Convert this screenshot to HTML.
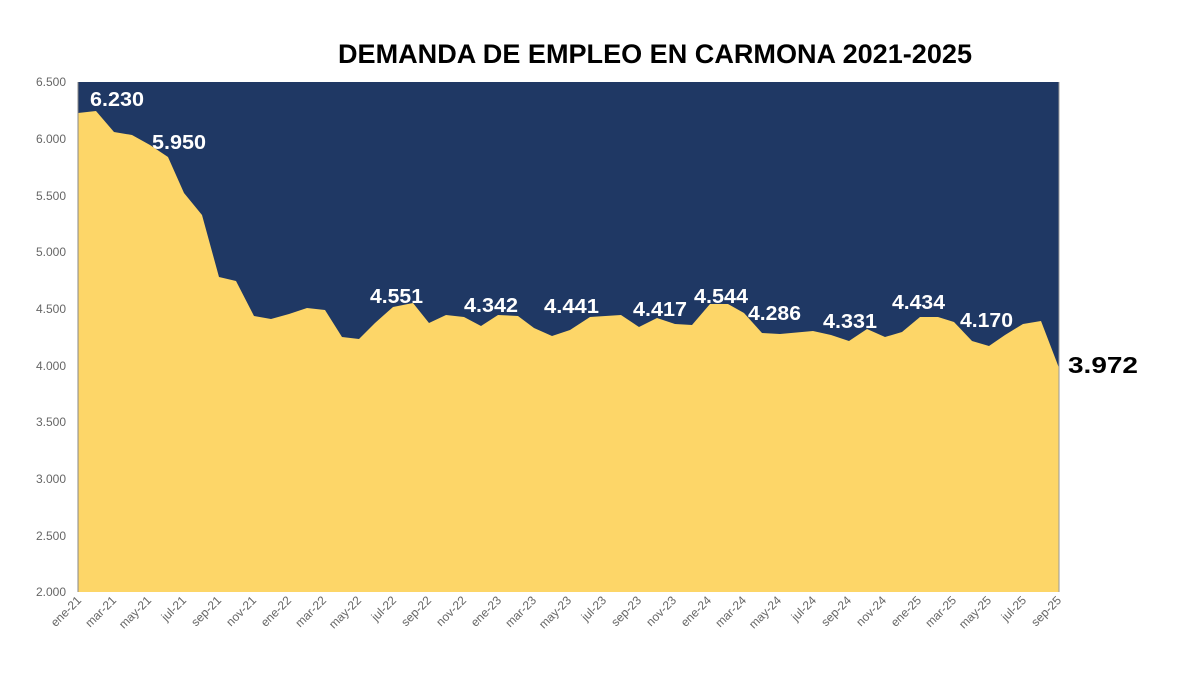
<!DOCTYPE html>
<html><head><meta charset="utf-8">
<style>
html,body{margin:0;padding:0;background:#fff;}
svg{display:block;}
</style></head>
<body>
<svg width="1200" height="675" viewBox="0 0 1200 675" xmlns="http://www.w3.org/2000/svg" font-family="'Liberation Sans', sans-serif">
<rect width="1200" height="675" fill="#fff"/>
<text x="338" y="63" font-size="27" font-weight="bold" fill="#000" textLength="634" lengthAdjust="spacingAndGlyphs">DEMANDA DE EMPLEO EN CARMONA 2021-2025</text>
<rect x="78" y="82" width="981" height="510" fill="#1f3864"/>
<polygon fill="#fdd668" points="78,592 78,113 96,111 114,132 132,135 150,145 168,157 184,193 202,215 219,277 236,281 254,316 271,319 289,314 307,308 325,310 342,337 359,339 375,323 393,307 413,303 429,323 446,315 464,317 481,326 498,315 518,316 534,328 552,336 570,330 590,317 621,315 639,327 657,318 675,324 692,325 710,304 728,304 744,313 762,333 780,334 813,331 831,335 849,341 867,329 885,337 902,332 920,317 938,317 954,322 972,341 989,346 1005,335 1023,324 1041,321 1059,368 1059,592"/>
<line x1="78" y1="82" x2="78" y2="592" stroke="#888" stroke-width="1"/>
<line x1="1059" y1="82" x2="1059" y2="592" stroke="#999" stroke-width="1"/>
<g font-size="12" fill="#666" text-anchor="end">
<text x="66" y="86">6.500</text>
<text x="66" y="143">6.000</text>
<text x="66" y="200">5.500</text>
<text x="66" y="256">5.000</text>
<text x="66" y="313">4.500</text>
<text x="66" y="370">4.000</text>
<text x="66" y="426">3.500</text>
<text x="66" y="483">3.000</text>
<text x="66" y="540">2.500</text>
<text x="66" y="596">2.000</text>
</g>
<g font-size="12" fill="#666" text-anchor="end">
<text transform="translate(82,601) rotate(-45)">ene-21</text>
<text transform="translate(117,601) rotate(-45)">mar-21</text>
<text transform="translate(152,601) rotate(-45)">may-21</text>
<text transform="translate(187,601) rotate(-45)">jul-21</text>
<text transform="translate(222,601) rotate(-45)">sep-21</text>
<text transform="translate(257,601) rotate(-45)">nov-21</text>
<text transform="translate(292,601) rotate(-45)">ene-22</text>
<text transform="translate(327,601) rotate(-45)">mar-22</text>
<text transform="translate(362,601) rotate(-45)">may-22</text>
<text transform="translate(397,601) rotate(-45)">jul-22</text>
<text transform="translate(432,601) rotate(-45)">sep-22</text>
<text transform="translate(467,601) rotate(-45)">nov-22</text>
<text transform="translate(502,601) rotate(-45)">ene-23</text>
<text transform="translate(537,601) rotate(-45)">mar-23</text>
<text transform="translate(572,601) rotate(-45)">may-23</text>
<text transform="translate(607,601) rotate(-45)">jul-23</text>
<text transform="translate(642,601) rotate(-45)">sep-23</text>
<text transform="translate(677,601) rotate(-45)">nov-23</text>
<text transform="translate(712,601) rotate(-45)">ene-24</text>
<text transform="translate(747,601) rotate(-45)">mar-24</text>
<text transform="translate(782,601) rotate(-45)">may-24</text>
<text transform="translate(817,601) rotate(-45)">jul-24</text>
<text transform="translate(852,601) rotate(-45)">sep-24</text>
<text transform="translate(887,601) rotate(-45)">nov-24</text>
<text transform="translate(922,601) rotate(-45)">ene-25</text>
<text transform="translate(957,601) rotate(-45)">mar-25</text>
<text transform="translate(992,601) rotate(-45)">may-25</text>
<text transform="translate(1027,601) rotate(-45)">jul-25</text>
<text transform="translate(1062,601) rotate(-45)">sep-25</text>
</g>
<g font-size="20" font-weight="bold" fill="#fff">
<text x="90" y="106" textLength="54" lengthAdjust="spacingAndGlyphs">6.230</text>
<text x="152" y="149" textLength="54" lengthAdjust="spacingAndGlyphs">5.950</text>
<text x="370" y="303" textLength="53" lengthAdjust="spacingAndGlyphs">4.551</text>
<text x="464" y="312" textLength="54" lengthAdjust="spacingAndGlyphs">4.342</text>
<text x="544" y="313" textLength="55" lengthAdjust="spacingAndGlyphs">4.441</text>
<text x="633" y="316" textLength="54" lengthAdjust="spacingAndGlyphs">4.417</text>
<text x="694" y="303" textLength="54" lengthAdjust="spacingAndGlyphs">4.544</text>
<text x="748" y="320" textLength="53" lengthAdjust="spacingAndGlyphs">4.286</text>
<text x="823" y="328" textLength="54" lengthAdjust="spacingAndGlyphs">4.331</text>
<text x="892" y="309" textLength="53" lengthAdjust="spacingAndGlyphs">4.434</text>
<text x="960" y="327" textLength="53" lengthAdjust="spacingAndGlyphs">4.170</text>
</g>
<text x="1068" y="373" font-size="23" font-weight="bold" fill="#000" textLength="70" lengthAdjust="spacingAndGlyphs">3.972</text>
</svg>
</body></html>
